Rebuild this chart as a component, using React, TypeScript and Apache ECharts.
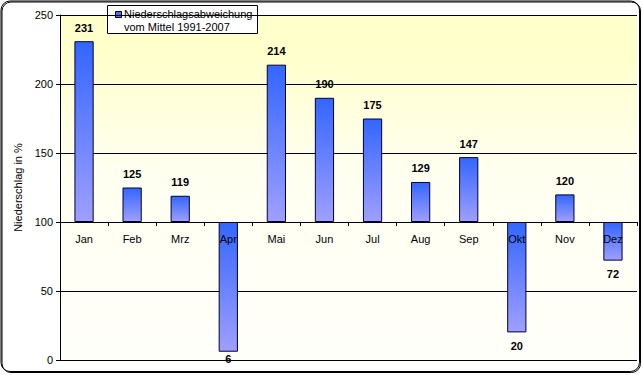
import React, { useEffect, useRef } from "react";
import * as echarts from "echarts";

const categories = ["Jan", "Feb", "Mrz", "Apr", "Mai", "Jun", "Jul", "Aug", "Sep", "Okt", "Nov", "Dez"];
const values = [231, 125, 119, 6, 214, 190, 175, 129, 147, 20, 120, 72];
const baseline = 100;
const yTicks = { min: 0, max: 250, interval: 50 };
const seriesName = "Niederschlagsabweichung\nvom Mittel 1991-2007";
const yAxisName = "Niederschlag in %";

const FONT = "Liberation Sans, Arial, sans-serif";
const W = 643;
const H = 375;
const GRID = { left: 60, right: 6, top: 15, bottom: 15 };

export default function App() {
  const ref = useRef<HTMLDivElement>(null);
  useEffect(() => {
    document.body.style.margin = "0";
    if (!ref.current) return;
    const chart = echarts.init(ref.current, null, { renderer: "svg" });
    const barGradient = new echarts.graphic.LinearGradient(0, 0, 0, 1, [
      { offset: 0, color: "#3366ff" },
      { offset: 1, color: "#9f9fff" },
    ]);
    const data = values.map((v) => ({
      value: v - baseline,
      raw: v,
      label: { position: v >= baseline ? "top" : "bottom" },
    }));
    const plotH = H - GRID.top - GRID.bottom;
    const axisOffset = -plotH * (baseline - yTicks.min) / (yTicks.max - yTicks.min);
    const labelLimit = H - 11;
    chart.setOption({
      animation: false,
      backgroundColor: "#ffffff",
      textStyle: { fontFamily: FONT },
      grid: {
        ...GRID,
        containLabel: false,
        outerBoundsMode: "none",
        show: true,
        borderWidth: 0,
        backgroundColor: new echarts.graphic.LinearGradient(0, 0, 0, 1, [
          { offset: 0, color: "#ffffcc" },
          { offset: 0.12, color: "#ffffcc" },
          { offset: 0.45, color: "#fffff0" },
          { offset: 1, color: "#fffffa" },
        ]),
      },
      xAxis: {
        type: "category",
        data: categories,
        position: "bottom",
        offset: axisOffset,
        z: 5,
        axisLine: { onZero: false, lineStyle: { color: "#000", width: 1 } },
        axisTick: { show: true, length: 4, lineStyle: { color: "#000" } },
        axisLabel: { color: "#000", fontSize: 11, margin: 11, fontFamily: FONT },
      },
      yAxis: {
        type: "value",
        min: yTicks.min - baseline,
        max: yTicks.max - baseline,
        interval: yTicks.interval,
        name: yAxisName,
        nameLocation: "middle",
        nameGap: 24,
        nameTextStyle: { color: "#000", fontSize: 11, fontFamily: FONT },
        axisLine: { show: true, onZero: false, lineStyle: { color: "#000", width: 1 } },
        axisTick: { show: true, length: 4, lineStyle: { color: "#000" } },
        axisLabel: {
          color: "#000",
          fontSize: 11,
          margin: 7,
          fontFamily: FONT,
          formatter: (v: number) => String(v + baseline),
        },
        splitLine: { show: true, lineStyle: { color: "#000", width: 1 } },
      },
      series: [
        {
          type: "bar",
          name: seriesName,
          data,
          barWidth: "40%",
          itemStyle: { color: barGradient, borderColor: "#000033", borderWidth: 1 },
          label: {
            show: true,
            distance: 8,
            color: "#000",
            fontSize: 11,
            fontWeight: "bold",
            fontFamily: FONT,
            formatter: (p: any) => String(p.data.raw),
          },
          labelLayout: (params: any) => {
            const r = params.labelRect;
            if (r && r.y + r.height > labelLimit) {
              return { dy: labelLimit - (r.y + r.height) };
            }
            return {};
          },
        },
      ],
      graphic: [
        {
          type: "rect",
          shape: { x: 2, y: 2, width: 638.5, height: 370.5, r: 9 },
          style: { fill: "none", stroke: "#000", lineWidth: 1 },
          silent: true,
          z: 100,
        },
        {
          type: "rect",
          shape: { x: 1, y: 1, width: 638.5, height: 370.5, r: 9 },
          style: { fill: "none", stroke: "#000", lineWidth: 1 },
          silent: true,
          z: 100,
        },
        {
          type: "group",
          left: 107,
          top: 5,
          z: 100,
          children: [
            {
              type: "rect",
              shape: { x: 0.5, y: 0.5, width: 150, height: 28 },
              style: { fill: "#fff", stroke: "#000", lineWidth: 1 },
            },
            {
              type: "rect",
              shape: { x: 8.5, y: 6.5, width: 6, height: 6 },
              style: { fill: "#4a6cff", stroke: "#000", lineWidth: 1 },
            },
            {
              type: "text",
              x: 17,
              y: 2,
              style: {
                text: seriesName,
                font: "11px " + FONT,
                fill: "#000",
                lineHeight: 13.5,
              },
            },
          ],
        },
      ],
    });
    return () => chart.dispose();
  }, []);
  return <div ref={ref} style={{ width: W, height: H }} />;
}
